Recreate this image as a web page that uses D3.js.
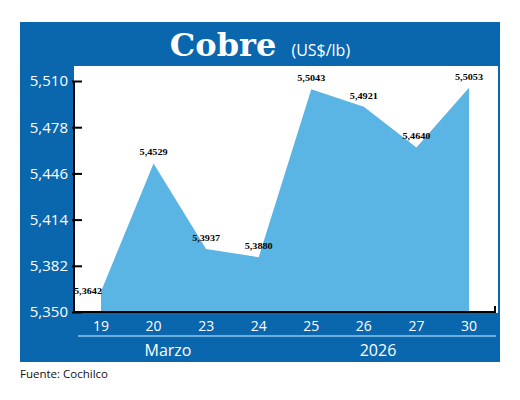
<!DOCTYPE html>
<html lang="es">
<head>
<meta charset="UTF-8">
<script src="https://d3js.org/d3.v7.min.js"></script>
<style>
  body { margin: 0; background: #fff; }
</style>
</head>
<body>
<svg id="chart" width="520" height="400"></svg>
<script>
  // datos
  const dias = ["19", "20", "23", "24", "25", "26", "27", "30"];
  const precios = [5.3642, 5.4529, 5.3937, 5.3880, 5.5043, 5.4921, 5.4640, 5.5053];
  const etiquetas = ["5,3642", "5,4529", "5,3937", "5,3880", "5,5043", "5,4921", "5,4640", "5,5053"];
  const ticksY = [5.350, 5.382, 5.414, 5.446, 5.478, 5.510];

  const azul = "#0a66ad", celeste = "#5ab4e4";
  const svg = d3.select("#chart");

  // marco azul
  svg.append("rect").attr("x", 20).attr("y", 22).attr("width", 480).attr("height", 340).attr("fill", azul);
  svg.append("rect").attr("x", 74).attr("y", 66).attr("width", 424).attr("height", 247).attr("fill", "#fff");

  // titulo
  const t = svg.append("text").attr("x", 260).attr("y", 56).attr("text-anchor", "middle").attr("fill", "#fff");
  t.append("tspan").attr("font-family", "DejaVu Serif").attr("font-weight", "bold").attr("font-size", 32).text("Cobre ");
  t.append("tspan").attr("font-family", "Open Sans").attr("font-size", 16).attr("dx", 4).text("(US$/lb)");

  const x = d3.scalePoint().domain(dias).range([101, 469]);
  const y = d3.scaleLinear().domain([5.350, 5.510]).range([312, 81]);

  const area = d3.area()
    .x((d, i) => x(dias[i]))
    .y0(y(5.350))
    .y1(d => y(d));
  svg.append("path").datum(precios).attr("d", area).attr("fill", celeste);

  // eje Y
  const yAxis = svg.append("g").attr("transform", "translate(74,0)")
    .call(d3.axisLeft(y).tickValues(ticksY).tickSize(-8).tickPadding(6)
      .tickFormat(d => d3.format(".3f")(d).replace(".", ",")));
  yAxis.select(".domain").attr("stroke", "#000").attr("stroke-width", 2).attr("d", "M0,81V312");
  yAxis.selectAll(".tick line").attr("stroke", "#000").attr("stroke-width", 2).attr("x1", -2).attr("x2", 8);
  yAxis.selectAll(".tick text").attr("x", -6).attr("fill", "#fff").attr("font-family", "Open Sans").attr("font-size", 15);

  // eje X
  svg.append("path").attr("d", "M74,312H495V306").attr("stroke", "#000").attr("stroke-width", 2).attr("fill", "none");
  svg.append("g").selectAll("text").data(dias).join("text")
    .attr("x", d => x(d)).attr("y", 331).attr("text-anchor", "middle")
    .attr("fill", "#fff").attr("font-family", "Open Sans").attr("font-size", 14).text(d => d);
  svg.append("line").attr("x1", 78).attr("x2", 496).attr("y1", 336).attr("y2", 336).attr("stroke", "#8cc8ee").attr("stroke-width", 1.5);
  svg.append("text").attr("x", 168).attr("y", 356).attr("text-anchor", "middle").attr("fill", "#fff")
    .attr("font-family", "Open Sans").attr("font-size", 16).text("Marzo");
  svg.append("text").attr("x", 378).attr("y", 356).attr("text-anchor", "middle").attr("fill", "#fff")
    .attr("font-family", "Open Sans").attr("font-size", 16).text("2026");

  // etiquetas de valores
  svg.append("g").selectAll("text").data(precios).join("text")
    .attr("x", (d, i) => i === 0 ? x(dias[i]) - 13 : x(dias[i]))
    .attr("y", (d, i) => i === 0 ? y(d) + 3 : y(d) - 8)
    .attr("text-anchor", "middle")
    .attr("font-family", "Liberation Serif").attr("font-weight", "bold").attr("font-size", 9)
    .attr("textLength", 28).attr("lengthAdjust", "spacingAndGlyphs")
    .text((d, i) => etiquetas[i]);

  svg.append("text").attr("x", 20).attr("y", 378).attr("font-family", "Open Sans").attr("font-size", 11.5)
    .attr("fill", "#111").text("Fuente: Cochilco");
</script>
</body>
</html>
